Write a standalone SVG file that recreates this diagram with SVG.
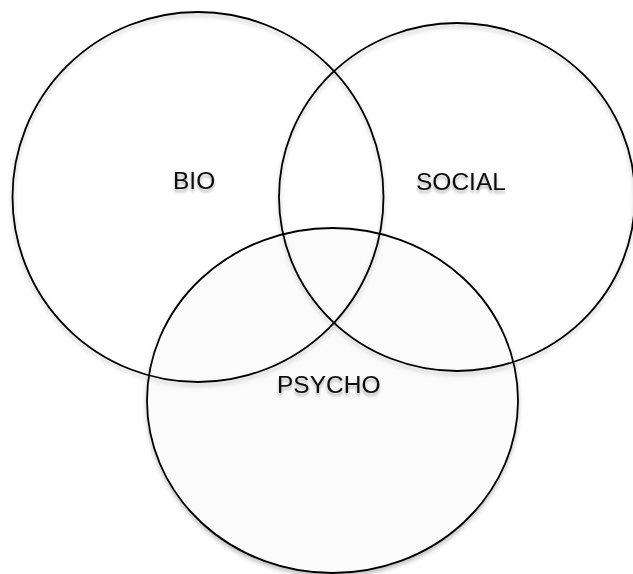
<svg xmlns="http://www.w3.org/2000/svg" width="633" height="574" viewBox="0 0 633 574">
  <defs>
    <filter id="sh" x="-10%" y="-10%" width="120%" height="125%">
      <feDropShadow dx="0" dy="3" stdDeviation="2" flood-color="#000" flood-opacity="0.25"/>
    </filter>
    <filter id="tsh" x="-20%" y="-30%" width="140%" height="180%">
      <feDropShadow dx="0" dy="3" stdDeviation="1.6" flood-color="#000" flood-opacity="0.3"/>
    </filter>
  </defs>
  <style>
    .ring { fill: none; stroke: #000; stroke-width: 1.8; filter: url(#sh); }
    .lbl { font-family: "Liberation Sans", Arial, sans-serif; font-size: 24.5px; fill: #111; filter: url(#tsh); }
  </style>
  <rect width="633" height="574" fill="#fff"/>
  <g id="psycho">
    <ellipse class="ring" cx="332.5" cy="400.5" rx="185.5" ry="172.5" style="fill:#fbfbfb"/>
    <text class="lbl" x="277" y="393">PSYCHO</text>
  </g>
  <g id="bio">
    <ellipse class="ring" cx="198" cy="197" rx="185.5" ry="185"/>
    <text class="lbl" x="173" y="189">BIO</text>
  </g>
  <g id="social">
    <ellipse class="ring" cx="457" cy="197" rx="178" ry="174"/>
    <text class="lbl" x="416" y="190">SOCIAL</text>
  </g>
  <g id="connectors"/>
</svg>
